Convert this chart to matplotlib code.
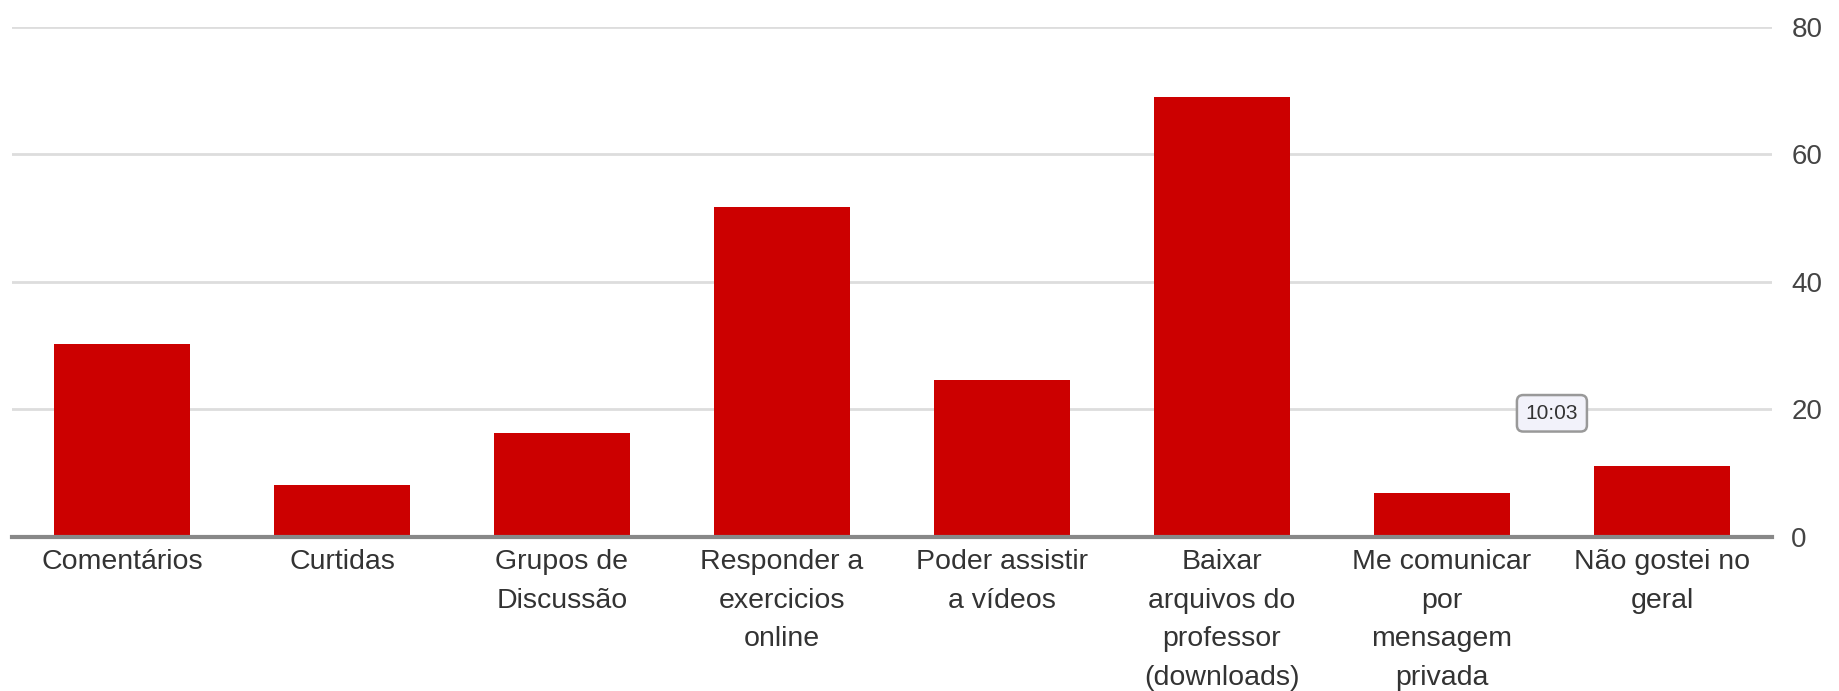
import matplotlib
matplotlib.use("Agg")
import matplotlib.pyplot as plt

categories = ["Comentários", "Curtidas", "Grupos de\nDiscussão", "Responder a\nexercicios\nonline",
              "Poder assistir\na vídeos", "Baixar\narquivos do\nprofessor\n(downloads)",
              "Me comunicar\npor\nmensagem\nprivada", "Não gostei no\ngeral"]
values = [30.3, 8.2, 16.3, 51.7, 24.6, 69.0, 6.9, 11.2]
yticks = [0, 20, 40, 60, 80]

plt.rcParams['font.family'] = ['Liberation Sans', 'DejaVu Sans']

fig = plt.figure(figsize=(18.4, 6.91), dpi=100)
ax = fig.add_axes([0.0065, 0.2229, 0.9565, 0.7381])

x = list(range(len(categories)))
ax.bar(x, values, width=0.615, color="#CC0000", zorder=3)
ax.set_xlim(-0.5, len(categories) - 0.5)
ax.set_ylim(0, 80)
ax.set_yticks(yticks)
ax.yaxis.tick_right()
ax.yaxis.grid(True, color="#DDDDDD", linewidth=2)
ax.set_axisbelow(True)
for s in ["top", "left", "right"]:
    ax.spines[s].set_visible(False)
ax.spines["bottom"].set_color("#888888")
ax.spines["bottom"].set_linewidth(3)
ax.spines["bottom"].set_zorder(4)
ax.tick_params(axis="y", length=0, pad=14, labelsize=20, labelcolor="#444444")
ax.tick_params(axis="x", length=0, pad=9, labelsize=20.5, labelcolor="#333333")
ax.set_xticks(x)
ax.set_xticklabels(categories, linespacing=1.62, va="top")

ax.annotate("10:03", xy=(6.5, 19.4), ha="center", va="center", fontsize=15,
            color="#333333", zorder=5,
            bbox=dict(boxstyle="round,pad=0.42,rounding_size=0.3", fc="#F2F2FA", ec="#999999", lw=1.8))

fig.savefig("out.png", dpi=100, facecolor="white")
